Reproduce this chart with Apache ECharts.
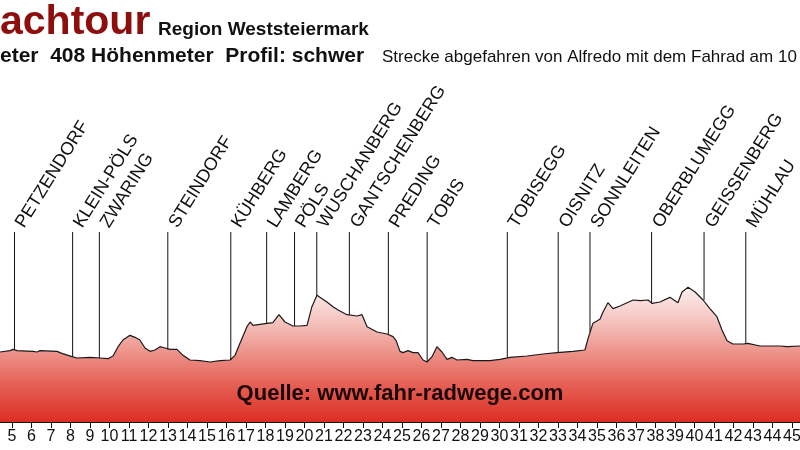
<!DOCTYPE html>
<html>
<head>
<meta charset="utf-8">
<title>Höhenprofil</title>
<script src="https://cdn.jsdelivr.net/npm/echarts@6/dist/echarts.min.js"></script>
<style>
  html, body { margin: 0; padding: 0; background: #fff; }
  #chart { width: 800px; height: 450px; }
</style>
</head>
<body>
<div id="chart"></div>
<script>
// Streckenkilometer und Höhe (m)
var km = [4.38, 4.90, 5.05, 5.26, 6.08, 6.28, 6.44, 7.31, 7.56, 8.08, 8.33, 9.00, 9.51, 9.92,
  10.18, 10.44, 10.69, 11.05, 11.31, 11.56, 11.82, 12.08, 12.33, 12.59, 12.85, 13.10, 13.46,
  13.77, 14.13, 14.64, 15.15, 15.67, 16.18, 16.44, 16.69, 17.05, 17.21, 17.36, 18.08, 18.38,
  18.69, 19.00, 19.41, 19.77, 20.13, 20.38, 20.64, 20.90, 21.15, 21.46, 21.72, 22.18, 22.69,
  22.95, 23.21, 23.72, 24.23, 24.54, 24.70, 24.90, 25.05, 25.31, 25.56, 25.82, 26.08, 26.28,
  26.54, 26.79, 27.05, 27.31, 27.56, 27.82, 28.33, 28.64, 29.51, 30.03, 30.54, 31.41, 32.23,
  32.95, 33.77, 34.38, 34.54, 34.79, 35.15, 35.31, 35.56, 35.82, 36.18, 36.85, 37.21, 37.62,
  37.82, 38.23, 38.74, 39.15, 39.36, 39.67, 40.03, 40.44, 40.79, 41.15, 41.41, 41.67, 41.97,
  42.49, 42.74, 43.36, 44.38, 44.74, 45.41];
var elevation = [405, 407, 409, 407, 406, 405, 407, 406, 403, 398, 396, 397, 396, 395,
  399, 413, 423, 430, 427, 423, 411, 406, 408, 413, 411, 409, 409,
  400, 393, 392, 390, 392, 393, 400, 418, 443, 450, 445, 448, 449,
  461, 450, 444, 444, 445, 473, 490, 485, 480, 473, 468, 461, 459,
  461, 443, 435, 432, 428, 422, 406, 404, 407, 404, 404, 393, 390,
  398, 413, 405, 394, 397, 393, 394, 392, 392, 394, 397, 399, 402,
  404, 406, 408, 425, 448, 454, 465, 479, 470, 474, 483, 482, 483,
  478, 480, 487, 479, 495, 502, 495, 483, 470, 458, 438, 422, 417,
  417, 418, 414, 414, 413, 414];

var placeNames = ['PETZENDORF', 'KLEIN-PÖLS', 'ZWARING', 'STEINDORF', 'KÜHBERG', 'LAMBERG',
  'PÖLS', 'WUSCHANBERG', 'GANTSCHENBERG', 'PREDING', 'TOBIS', 'TOBISEGG', 'OISNITZ',
  'SONNLEITEN', 'OBERBLUMEGG', 'GEISSENBERG', 'MÜHLAU'];
var placeKm = [5.13, 8.11, 9.48, 12.99, 16.22, 18.06, 19.49, 20.63, 22.30, 24.30, 26.29,
  30.40, 33.01, 34.64, 37.80, 40.49, 42.63];
var placeElev = [409, 398, 396, 409, 393, 448, 444, 490, 461, 432, 390, 397, 404, 435, 478, 483, 417];

var tickKm = [5, 6, 7, 8, 9, 10, 11, 12, 13, 14, 15, 16, 17, 18, 19, 20, 21, 22, 23, 24, 25,
  26, 27, 28, 29, 30, 31, 32, 33, 34, 35, 36, 37, 38, 39, 40, 41, 42, 43, 44, 45];

var LINE_TOP = 585; // Höhe, an der die Ortslinien beginnen
var FONT = '"Liberation Sans", Arial, sans-serif';

var chart = echarts.init(document.getElementById('chart'));

chart.setOption({
  animation: false,
  backgroundColor: '#fff',
  grid: { left: 0, right: 0, top: 22, bottom: 28, containLabel: false, outerBoundsMode: 'none' },
  xAxis: {
    type: 'value',
    min: 4.385,
    max: 45.41,
    axisLine: { show: true, lineStyle: { color: '#111', width: 1 } },
    axisTick: { show: true, customValues: tickKm, length: 6, lineStyle: { color: '#111' } },
    axisLabel: {
      customValues: tickKm,
      color: '#111',
      fontSize: 16,
      fontFamily: '"Liberation Sans Narrow", "Liberation Sans", Arial',
      margin: 7
    },
    splitLine: { show: false }
  },
  yAxis: { type: 'value', min: 300, max: 900, show: false },
  graphic: [
    { type: 'text', x: 0, y: 23, z: 10, style: { text: 'achtour', font: 'bold 41px ' + FONT, fill: '#8e0d0d', verticalAlign: 'middle' } },
    { type: 'text', x: 158, y: 30, z: 10, style: { text: 'Region Weststeiermark', font: 'bold 19px ' + FONT, fill: '#111', verticalAlign: 'middle' } },
    { type: 'text', x: 0, y: 56, z: 10, style: { text: 'eter  408 Höhenmeter  Profil: schwer', font: 'bold 21px ' + FONT, fill: '#111', verticalAlign: 'middle' } },
    { type: 'text', x: 382, y: 57, z: 10, style: { text: 'Strecke abgefahren von Alfredo mit dem Fahrad am 10', font: '17px ' + FONT, fill: '#111', verticalAlign: 'middle' } },
    { type: 'text', x: 400, y: 394, z: 10, style: { text: 'Quelle: www.fahr-radwege.com', font: 'bold 22px ' + FONT, fill: '#1a0606', align: 'center', verticalAlign: 'middle' } }
  ],
  series: [
    {
      type: 'line',
      data: km.map(function (k, i) { return [k, elevation[i]]; }),
      showSymbol: false,
      z: 2,
      lineStyle: { color: '#1a1a1a', width: 1.2 },
      areaStyle: {
        origin: 'start',
        opacity: 1,
        color: {
          type: 'linear', x: 0, y: 0, x2: 0, y2: 1,
          colorStops: [
            { offset: 0, color: '#fcefee' },
            { offset: 0.25, color: '#f5c4bf' },
            { offset: 0.45, color: '#ee9a92' },
            { offset: 0.7, color: '#e6645a' },
            { offset: 1, color: '#dc2e22' }
          ]
        }
      }
    },
    {
      type: 'custom',
      z: 3,
      data: placeKm.map(function (k, i) { return [k, placeElev[i]]; }),
      renderItem: function (params, api) {
        var top = api.coord([api.value(0), LINE_TOP]);
        var bottom = api.coord([api.value(0), api.value(1)]);
        return {
          type: 'group',
          children: [
            {
              type: 'line',
              shape: { x1: top[0], y1: top[1], x2: bottom[0], y2: bottom[1] },
              style: { stroke: '#111', lineWidth: 1 }
            },
            {
              type: 'text',
              x: top[0] + 13,
              y: top[1] - 1,
              rotation: 58 * Math.PI / 180,
              style: {
                text: placeNames[params.dataIndex],
                font: '18px ' + FONT,
                fill: '#111',
                align: 'left',
                verticalAlign: 'bottom'
              }
            }
          ]
        };
      }
    }
  ]
});
</script>
</body>
</html>
